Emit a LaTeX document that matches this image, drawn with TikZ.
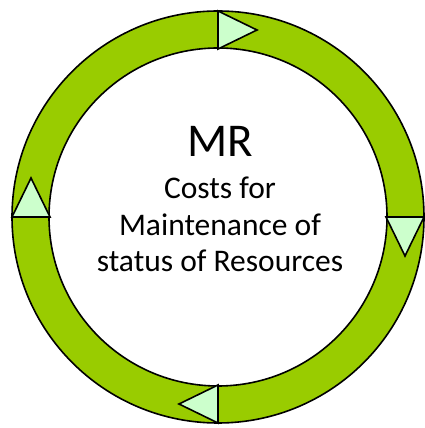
\documentclass[tikz,border=0pt]{standalone}
\usepackage{fontspec}
\setmainfont{Carlito}
\definecolor{ringgreen}{HTML}{99CC00}
\definecolor{tipgreen}{HTML}{CCFFCC}

\begin{document}
\begin{tikzpicture}[x=1pt, y=1pt]
	\tikzset{ring/.style = {fill=ringgreen, draw=black, line width=1.6pt, even odd rule}}
	\tikzset{tip/.style = {fill=tipgreen, draw=black, line width=1.6pt, line join=miter}}
	\tikzset{big/.style = {font=\fontsize{47}{47}\selectfont, anchor=base}}
	\tikzset{small/.style = {font=\fontsize{31.5}{36}\selectfont, anchor=base}}
	\useasboundingbox (0,0) rectangle (425,428);
	\draw[ring] (218,211) circle (206pt) (218,211) circle (169pt);
	\foreach \a in {0,-90,-180,-270}
		\draw[tip, rotate around={\a:(218,211)}] (218,417) -- (218,379) -- (257,398) -- cycle;
	\node[big] (mr) at (220,271) {MR};
	\node[small] (costs) at (220,229) {Costs for};
	\node[small] (maint) at (220,192) {Maintenance of};
	\node[small] (status) at (220,156) {status of Resources};
\end{tikzpicture}
\end{document}
